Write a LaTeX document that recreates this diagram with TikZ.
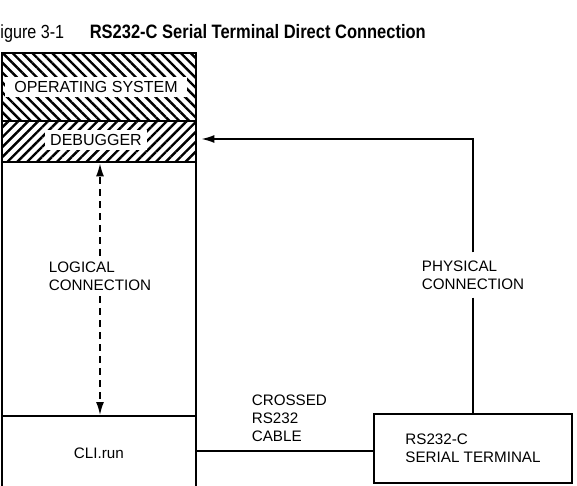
\documentclass[tikz,border=0pt]{standalone}
\usepackage{fontspec}
\setmainfont{Liberation Sans}
\newfontfamily\condfont[FakeStretch=0.85]{Liberation Sans}
\usetikzlibrary{patterns.meta,arrows.meta}
\begin{document}
\begin{tikzpicture}[x=1pt,y=-1pt,line width=1.6pt,
  box/.style={draw,inner sep=0pt,anchor=north west},
  lbl/.style={font=\fontsize{15.2}{18}\selectfont,align=left,inner sep=0pt},
  bandtext/.style={font=\fontsize{16}{18}\selectfont,fill=white,inner xsep=5pt,inner ysep=4pt},
  hatchA/.style={pattern={Lines[angle=-45,distance=7pt,line width=2.4pt]}},
  hatchB/.style={pattern={Lines[angle=45,distance=7pt,line width=2.4pt]}},
  tip/.style={-{Latex[length=13pt,width=8pt]}},
  dline/.style={dash pattern=on 7pt off 5pt,-{Latex[length=13pt,width=8pt]}}]
\useasboundingbox (0,0) rectangle (577,486);
% title
\node[font=\condfont\fontsize{19}{22}\selectfont,anchor=base east,inner sep=0pt] (fig) at (65,39) {Figure 3-1};
\node[font=\condfont\bfseries\fontsize{19.4}{22}\selectfont,anchor=base west,inner sep=0pt] (title) at (89,39) {RS232-C Serial Terminal Direct Connection};
% left column
\node[box,minimum width=194pt,minimum height=437pt] (col) at (1,52) {};
\node[box,hatchA,minimum width=194pt,minimum height=68pt] (os) at (1,52) {};
\node[box,hatchB,minimum width=194pt,minimum height=41pt] (dbg) at (1,120) {};
\node[bandtext,inner xsep=9pt] (ostext) at (96,87) {OPERATING SYSTEM};
\node[bandtext] (dbgtext) at (96,140) {DEBUGGER};
\node[box,minimum width=194pt,minimum height=74pt] (cli) at (1,415) {};
\node[lbl] (clitext) at (cli.center) {CLI.run};
% terminal
\node[draw,lbl,minimum width=198pt,minimum height=69pt] (term) at (473,448.5) {RS232-C\\SERIAL TERMINAL};
% labels
\node[lbl,inner ysep=5pt] (logical) at (100,276) {LOGICAL\\CONNECTION};
\node[lbl,inner ysep=7.5pt] (phys) at (473,275) {PHYSICAL\\CONNECTION};
\node[lbl,anchor=west] (cable) at (251,418) {CROSSED\\RS232\\CABLE};
% logical connection
\draw[dline] (logical.north) -- (logical.north |- dbg.south);
\draw[dline] (logical.south) -- (logical.south |- cli.north);
% physical connection
\coordinate (corner) at (473,139);
\draw[tip,shorten >=4pt] (phys.north) -- (corner) -- (corner -| dbg.east);
\draw (phys.south) -- (term.north);
% cable
\coordinate (cab) at (300,451);
\draw (cab -| cli.east) -- (cab -| term.west);
\end{tikzpicture}
\end{document}
